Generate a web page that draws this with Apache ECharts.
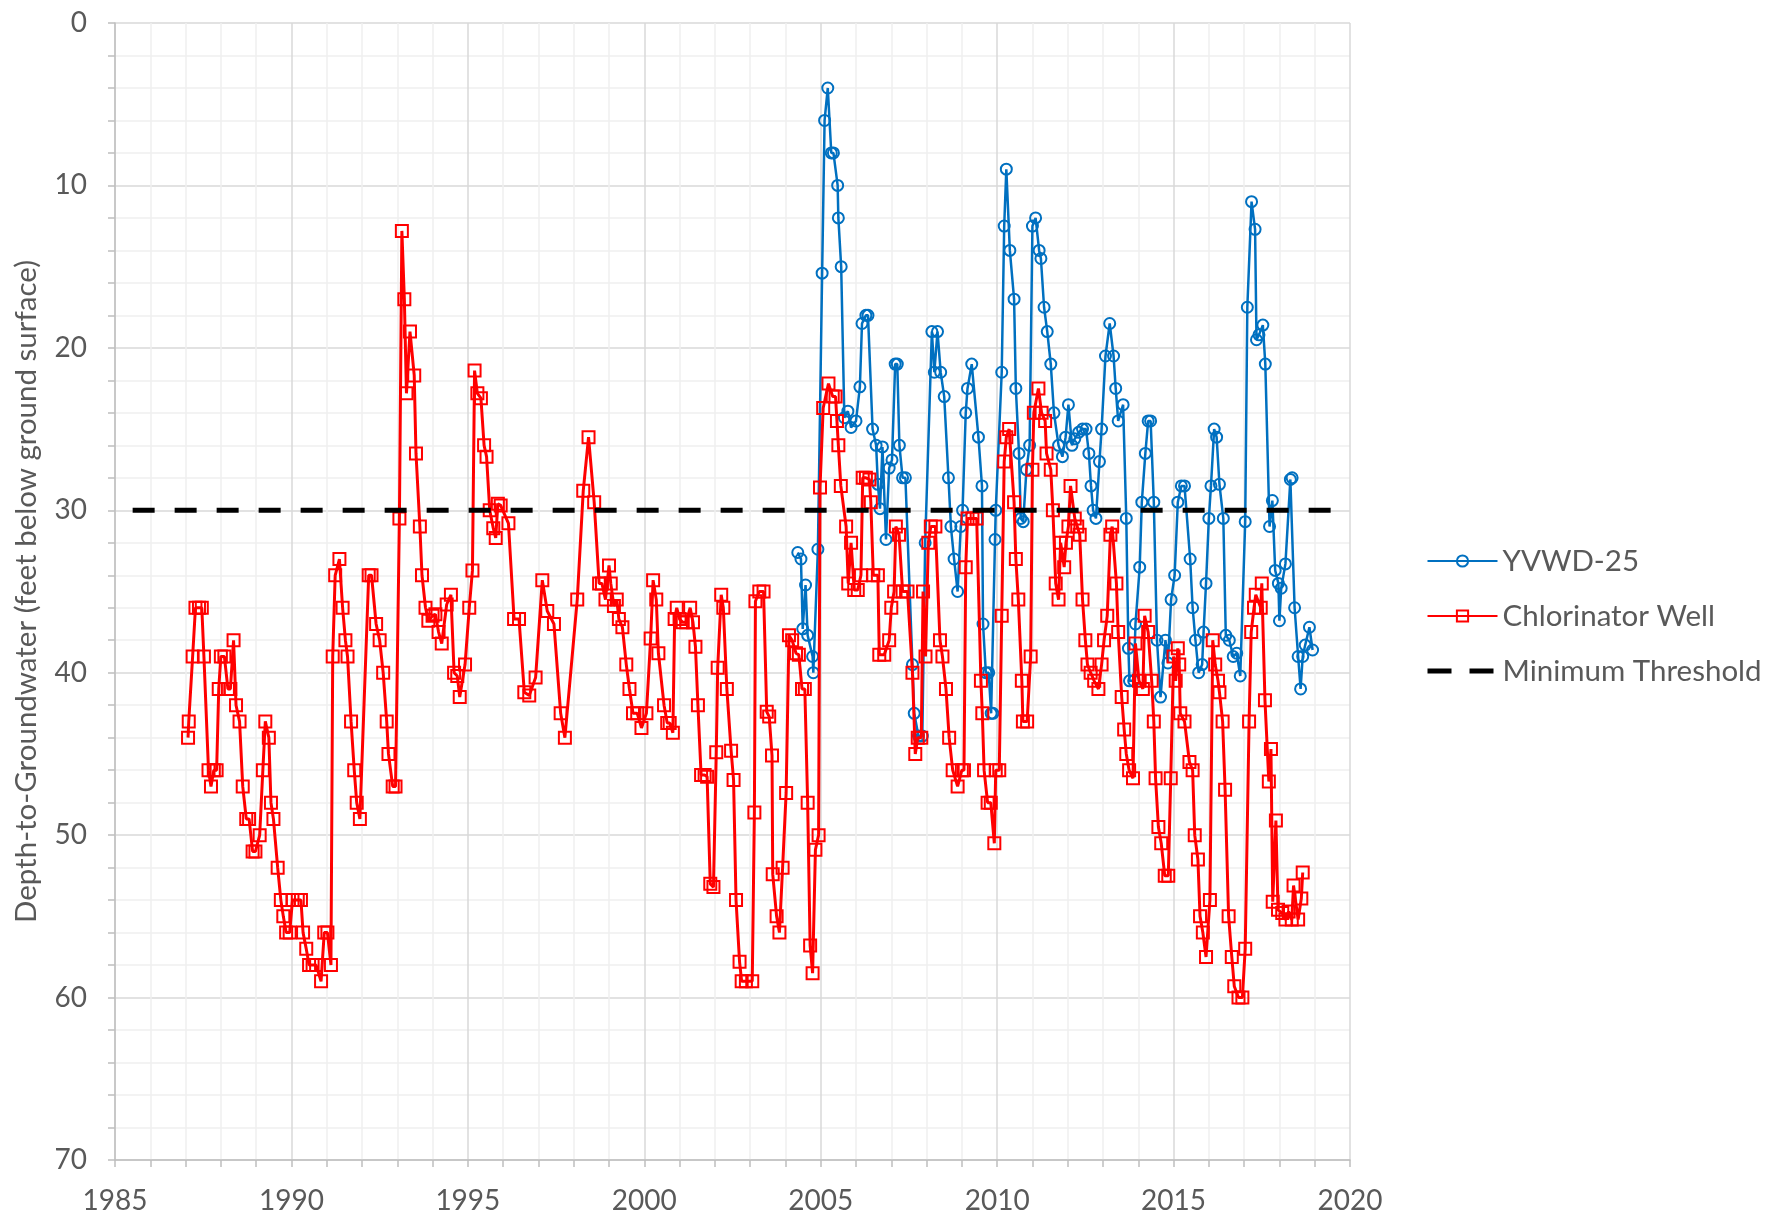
<!DOCTYPE html>
<html>
<head>
<meta charset="utf-8">
<title>Depth-to-Groundwater</title>
<script src="https://cdn.jsdelivr.net/npm/echarts@6/dist/echarts.min.js"></script>
<style>
    html, body { margin: 0; padding: 0; background: #fff; }
    #linechart { width: 1769px; height: 1218px; }
</style>
</head>
<body>
<div id="linechart"></div>
<script>
// 数据 (decimal year, depth in feet below ground surface)
var chlorYears = [
    1987.07, 1987.09, 1987.20, 1987.28, 1987.38, 1987.46, 1987.52, 1987.65, 1987.72, 1987.80,
    1987.88, 1987.94, 1988.00, 1988.10, 1988.20, 1988.27, 1988.36, 1988.43, 1988.53, 1988.62,
    1988.72, 1988.80, 1988.90, 1988.98, 1989.10, 1989.19, 1989.26, 1989.36, 1989.42, 1989.49,
    1989.61, 1989.70, 1989.77, 1989.85, 1989.95, 1990.03, 1990.18, 1990.27, 1990.33, 1990.42,
    1990.50, 1990.60, 1990.70, 1990.84, 1990.93, 1991.02, 1991.12, 1991.17, 1991.24, 1991.36,
    1991.45, 1991.53, 1991.59, 1991.69, 1991.78, 1991.85, 1991.94, 1992.19, 1992.27, 1992.40,
    1992.50, 1992.60, 1992.70, 1992.75, 1992.87, 1992.95, 1993.06, 1993.13, 1993.20, 1993.26,
    1993.36, 1993.48, 1993.53, 1993.64, 1993.70, 1993.80, 1993.88, 1994.00, 1994.08, 1994.17,
    1994.26, 1994.40, 1994.52, 1994.61, 1994.70, 1994.77, 1994.92, 1995.04, 1995.13, 1995.19,
    1995.27, 1995.37, 1995.46, 1995.53, 1995.62, 1995.72, 1995.79, 1995.85, 1995.93, 1996.15,
    1996.31, 1996.45, 1996.60, 1996.74, 1996.92, 1997.11, 1997.25, 1997.44, 1997.63, 1997.75,
    1998.10, 1998.27, 1998.42, 1998.58, 1998.72, 1998.80, 1998.90, 1999.00, 1999.05, 1999.14,
    1999.22, 1999.28, 1999.38, 1999.49, 1999.58, 1999.68, 1999.80, 1999.92, 2000.06, 2000.18,
    2000.25, 2000.34, 2000.40, 2000.56, 2000.65, 2000.72, 2000.81, 2000.86, 2000.92, 2001.00,
    2001.09, 2001.19, 2001.30, 2001.38, 2001.45, 2001.52, 2001.61, 2001.71, 2001.78, 2001.87,
    2001.96, 2002.04, 2002.08, 2002.18, 2002.24, 2002.34, 2002.46, 2002.53, 2002.60, 2002.70,
    2002.76, 2002.88, 2003.06, 2003.12, 2003.15, 2003.26, 2003.38, 2003.47, 2003.54, 2003.62,
    2003.64, 2003.75, 2003.83, 2003.92, 2004.02, 2004.10, 2004.19, 2004.30, 2004.38, 2004.47,
    2004.55, 2004.63, 2004.70, 2004.77, 2004.85, 2004.94, 2004.98, 2005.07, 2005.22, 2005.34,
    2005.42, 2005.46, 2005.50, 2005.57, 2005.72, 2005.78, 2005.86, 2005.95, 2006.05, 2006.14,
    2006.19, 2006.28, 2006.38, 2006.42, 2006.49, 2006.62, 2006.66, 2006.80, 2006.94, 2007.00,
    2007.08, 2007.13, 2007.22, 2007.32, 2007.46, 2007.60, 2007.68, 2007.75, 2007.85, 2007.90,
    2007.97, 2008.05, 2008.12, 2008.25, 2008.38, 2008.45, 2008.55, 2008.64, 2008.74, 2008.88,
    2009.00, 2009.06, 2009.11, 2009.16, 2009.30, 2009.42, 2009.54, 2009.58, 2009.63, 2009.73,
    2009.82, 2009.92, 2009.96, 2010.06, 2010.13, 2010.20, 2010.26, 2010.34, 2010.48, 2010.53,
    2010.60, 2010.70, 2010.73, 2010.85, 2010.95, 2011.00, 2011.04, 2011.17, 2011.26, 2011.36,
    2011.40, 2011.52, 2011.58, 2011.66, 2011.74, 2011.80, 2011.90, 2011.95, 2012.02, 2012.08,
    2012.20, 2012.27, 2012.34, 2012.42, 2012.50, 2012.56, 2012.65, 2012.75, 2012.87, 2012.96,
    2013.03, 2013.12, 2013.21, 2013.26, 2013.38, 2013.43, 2013.53, 2013.60, 2013.66, 2013.74,
    2013.85, 2013.92, 2014.02, 2014.13, 2014.18, 2014.28, 2014.38, 2014.44, 2014.49, 2014.57,
    2014.65, 2014.75, 2014.85, 2014.92, 2015.00, 2015.06, 2015.12, 2015.16, 2015.19, 2015.31,
    2015.45, 2015.54, 2015.60, 2015.69, 2015.75, 2015.83, 2015.92, 2016.03, 2016.11, 2016.18,
    2016.26, 2016.30, 2016.39, 2016.46, 2016.56, 2016.65, 2016.72, 2016.84, 2016.95, 2017.03,
    2017.14, 2017.20, 2017.28, 2017.33, 2017.47, 2017.50, 2017.59, 2017.70, 2017.76, 2017.81,
    2017.90, 2017.96, 2018.08, 2018.17, 2018.26, 2018.35, 2018.40, 2018.53, 2018.62, 2018.66
];
var chlorDepth = [
    44, 43, 39, 36, 36, 36, 39, 46, 47, 46,
    46, 41, 39, 39, 41, 41, 38, 42, 43, 47,
    49, 49, 51, 51, 50, 46, 43, 44, 48, 49,
    52, 54, 55, 56, 56, 54, 54, 54, 56, 57,
    58, 58, 58, 59, 56, 56, 58, 39, 34, 33,
    36, 38, 39, 43, 46, 48, 49, 34, 34, 37,
    38, 40, 43, 45, 47, 47, 30.5, 12.8, 17, 22.8,
    19, 21.7, 26.5, 31, 34, 36, 36.8, 36.5, 36.4, 37.5,
    38.2, 35.8, 35.2, 40, 40.2, 41.5, 39.5, 36, 33.7, 21.4,
    22.8, 23.1, 26, 26.7, 30, 31.1, 31.7, 29.6, 29.7, 30.8,
    36.7, 36.7, 41.2, 41.4, 40.3, 34.3, 36.2, 37, 42.5, 44,
    35.5, 28.8, 25.5, 29.5, 34.5, 34.5, 35.5, 33.4, 34.5, 35.9,
    35.5, 36.7, 37.2, 39.5, 41, 42.5, 42.5, 43.4, 42.5, 37.9,
    34.3, 35.5, 38.8, 42, 43.1, 43.1, 43.7, 36.7, 36, 36.7,
    36.9, 36.9, 36, 36.9, 38.4, 42, 46.3, 46.3, 46.4, 53,
    53.2, 44.9, 39.7, 35.2, 36, 41, 44.8, 46.6, 54, 57.8,
    59, 59, 59, 48.6, 35.6, 35, 35, 42.4, 42.7, 45.1,
    52.4, 55, 56, 52, 47.4, 37.7, 38, 38.8, 38.9, 41,
    41, 48, 56.8, 58.5, 50.9, 50, 28.6, 23.7, 22.2, 23,
    23, 24.5, 26, 28.5, 31, 34.5, 32, 34.9, 34.9, 34,
    28, 28, 28.1, 29.5, 34, 34, 38.9, 38.9, 38, 36,
    35, 31, 31.5, 35, 35, 40, 45, 44, 44, 35,
    39, 32, 31, 31, 38, 39, 41, 44, 46, 47,
    46, 46, 33.5, 30.5, 30.5, 30.5, 40.5, 42.5, 46, 48,
    48, 50.5, 46, 46, 36.5, 27, 25.5, 25, 29.5, 33,
    35.5, 40.5, 43, 43, 39, 27.5, 24, 22.5, 24, 24.5,
    26.5, 27.5, 30, 34.5, 35.5, 32, 33.5, 32, 31, 28.5,
    30.5, 31, 31.5, 35.5, 38, 39.5, 40, 40.5, 41, 39.5,
    38, 36.5, 31.5, 31, 34.5, 37.5, 41.5, 43.5, 45, 46,
    46.5, 38.2, 40.5, 41, 36.5, 37.5, 40.5, 43, 46.5, 49.5,
    50.5, 52.5, 52.5, 46.5, 39, 40.5, 38.5, 39.5, 42.5, 43,
    45.5, 46, 50, 51.5, 55, 56, 57.5, 54, 38, 39.5,
    40.5, 41.2, 43, 47.2, 55, 57.5, 59.3, 60, 60, 57,
    43, 37.5, 36, 35.2, 36, 34.5, 41.7, 46.7, 44.7, 54.1,
    49.1, 54.6, 54.8, 55.2, 54.7, 55.2, 53.1, 55.2, 53.9, 52.3
];

var yvwdYears = [
    2004.35, 2004.44, 2004.49, 2004.57, 2004.63, 2004.77, 2004.79, 2004.92, 2005.04, 2005.11,
    2005.20, 2005.30, 2005.36, 2005.48, 2005.50, 2005.58, 2005.67, 2005.77, 2005.86, 2006.00,
    2006.11, 2006.17, 2006.28, 2006.34, 2006.47, 2006.57, 2006.62, 2006.68, 2006.75, 2006.85,
    2006.94, 2007.02, 2007.11, 2007.17, 2007.23, 2007.32, 2007.40, 2007.60, 2007.65, 2007.77,
    2007.88, 2007.96, 2008.15, 2008.22, 2008.31, 2008.40, 2008.50, 2008.62, 2008.69, 2008.78,
    2008.88, 2008.97, 2009.02, 2009.11, 2009.16, 2009.28, 2009.47, 2009.57, 2009.60, 2009.68,
    2009.76, 2009.83, 2009.88, 2009.94, 2009.96, 2010.13, 2010.20, 2010.26, 2010.36, 2010.48,
    2010.53, 2010.62, 2010.67, 2010.74, 2010.83, 2010.92, 2011.00, 2011.09, 2011.19, 2011.24,
    2011.33, 2011.42, 2011.52, 2011.61, 2011.74, 2011.85, 2011.94, 2012.02, 2012.12, 2012.20,
    2012.31, 2012.42, 2012.52, 2012.60, 2012.66, 2012.72, 2012.80, 2012.90, 2012.96, 2013.07,
    2013.19, 2013.30, 2013.36, 2013.43, 2013.57, 2013.66, 2013.72, 2013.75, 2013.87, 2013.92,
    2014.04, 2014.10, 2014.20, 2014.28, 2014.35, 2014.44, 2014.53, 2014.63, 2014.77, 2014.84,
    2014.93, 2015.03, 2015.12, 2015.22, 2015.31, 2015.47, 2015.54, 2015.62, 2015.71, 2015.81,
    2015.85, 2015.92, 2016.00, 2016.06, 2016.15, 2016.22, 2016.30, 2016.41, 2016.48, 2016.58,
    2016.69, 2016.79, 2016.89, 2017.03, 2017.09, 2017.21, 2017.31, 2017.35, 2017.42, 2017.53,
    2017.60, 2017.72, 2017.80, 2017.88, 2017.97, 2018.00, 2018.05, 2018.17, 2018.31, 2018.36,
    2018.43, 2018.53, 2018.60, 2018.66, 2018.73, 2018.85, 2018.94
];
var yvwdDepth = [
    32.6, 33, 37.3, 34.6, 37.7, 39, 40, 32.4, 15.4, 6,
    4, 8, 8, 10, 12, 15, 24.3, 23.9, 24.9, 24.5,
    22.4, 18.5, 18, 18, 25, 26, 28.4, 29.9, 26.1, 31.8,
    27.4, 26.9, 21, 21, 26, 28, 28, 39.5, 42.5, 43.9,
    43.9, 32, 19, 21.5, 19, 21.5, 23, 28, 31, 33,
    35, 31, 30, 24, 22.5, 21, 25.5, 28.5, 37, 40,
    40, 42.5, 42.5, 31.8, 30, 21.5, 12.5, 9, 14, 17,
    22.5, 26.5, 30.5, 30.7, 27.5, 26, 12.5, 12, 14, 14.5,
    17.5, 19, 21, 24, 26, 26.7, 25.5, 23.5, 26, 25.6,
    25.2, 25, 25, 26.5, 28.5, 30, 30.5, 27, 25, 20.5,
    18.5, 20.5, 22.5, 24.5, 23.5, 30.5, 38.5, 40.5, 40.5, 37,
    33.5, 29.5, 26.5, 24.5, 24.5, 29.5, 38, 41.5, 38, 39.4,
    35.5, 34, 29.5, 28.5, 28.5, 33, 36, 38, 40, 39.5,
    37.5, 34.5, 30.5, 28.5, 25, 25.5, 28.4, 30.5, 37.7, 38,
    39, 38.8, 40.2, 30.7, 17.5, 11, 12.7, 19.5, 19.2, 18.6,
    21, 31, 29.4, 33.7, 34.5, 36.8, 34.8, 33.3, 28.1, 28,
    36, 39, 41, 39, 38.3, 37.2, 38.6
];

var thresholdYears = [1985.5, 2020];
var thresholdDepth = [30, 30];

var myChart = echarts.init(document.getElementById('linechart'));
initDepth();

function pairs(xs, ys) {
    var out = [];
    for (var i = 0; i < xs.length; i++) {
        out.push([xs[i], ys[i]]);
    }
    return out;
}

function initDepth() {
    var fontName = 'Lato, "Open Sans", sans-serif';
    var textColor = '#595959';
    var option = {
        backgroundColor: '#ffffff',
        animation: false,
        grid: {
            left: 115,
            top: 23,
            right: 419,
            bottom: 58
        },
        legend: {
            orient: 'vertical',
            left: 1420,
            top: 541,
            itemWidth: 70,
            itemHeight: 14,
            itemGap: 25,
            textStyle: {
                fontFamily: fontName,
                fontSize: 29.5,
                color: textColor
            },
            data: [
                'YVWD-25',
                'Chlorinator Well',
                {
                    name: 'Minimum Threshold',
                    itemStyle: { opacity: 0 },
                    lineStyle: { color: '#000000', width: 5, type: [24, 18] }
                }
            ]
        },
        xAxis: {
            type: 'value',
            min: 1985,
            max: 2020,
            interval: 5,
            axisLine: {
                onZero: false,
                lineStyle: { color: '#bfbfbf', width: 1.5 }
            },
            axisTick: {
                show: true,
                length: 7,
                lineStyle: { color: '#bfbfbf', width: 1.5 }
            },
            minorTick: {
                show: true,
                splitNumber: 5,
                length: 7,
                lineStyle: { color: '#bfbfbf', width: 1.5 }
            },
            axisLabel: {
                margin: 27,
                fontFamily: fontName,
                fontSize: 28,
                color: textColor,
                formatter: function (v) { return String(v); }
            },
            splitLine: {
                show: true,
                lineStyle: { color: '#d9d9d9', width: 1.5 }
            },
            minorSplitLine: {
                show: true,
                lineStyle: { color: '#f0f0f0', width: 1.5 }
            }
        },
        yAxis: {
            type: 'value',
            inverse: true,
            min: 0,
            max: 70,
            interval: 10,
            name: 'Depth-to-Groundwater (feet below ground surface)',
            nameLocation: 'middle',
            nameGap: 74,
            nameTextStyle: {
                fontFamily: fontName,
                fontSize: 29.5,
                color: textColor
            },
            axisLine: {
                show: true,
                onZero: false,
                lineStyle: { color: '#bfbfbf', width: 1.5 }
            },
            axisTick: {
                show: true,
                length: 7,
                lineStyle: { color: '#bfbfbf', width: 1.5 }
            },
            minorTick: {
                show: true,
                splitNumber: 5,
                length: 7,
                lineStyle: { color: '#bfbfbf', width: 1.5 }
            },
            axisLabel: {
                margin: 28,
                fontFamily: fontName,
                fontSize: 28,
                color: textColor
            },
            splitLine: {
                show: true,
                lineStyle: { color: '#d9d9d9', width: 1.5 }
            },
            minorSplitLine: {
                show: true,
                lineStyle: { color: '#f0f0f0', width: 1.5 }
            }
        },
        series: [{
            name: 'YVWD-25',
            type: 'line',
            data: pairs(yvwdYears, yvwdDepth),
            symbol: 'circle',
            symbolSize: 11,
            z: 3,
            lineStyle: { color: '#0070c0', width: 2.5 },
            itemStyle: {
                color: 'rgba(255,255,255,0)',
                borderColor: '#0070c0',
                borderWidth: 2
            }
        }, {
            name: 'Chlorinator Well',
            type: 'line',
            data: pairs(chlorYears, chlorDepth),
            symbol: 'rect',
            symbolSize: 12,
            z: 4,
            lineStyle: { color: '#ff0000', width: 3 },
            itemStyle: {
                color: 'rgba(255,255,255,0)',
                borderColor: '#ff0000',
                borderWidth: 2
            }
        }, {
            name: 'Minimum Threshold',
            type: 'line',
            data: pairs(thresholdYears, thresholdDepth),
            symbol: 'none',
            z: 5,
            lineStyle: { color: '#000000', width: 5, type: [22, 20] },
            itemStyle: { color: '#000000' }
        }]
    };
    myChart.setOption(option);
}
</script>
</body>
</html>
